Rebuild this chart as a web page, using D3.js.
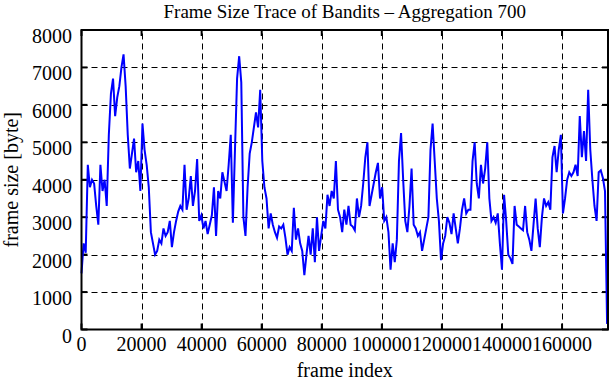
<!DOCTYPE html>
<html>
<head>
<meta charset="utf-8">
<script src="https://cdn.jsdelivr.net/npm/d3@7"></script>
<style>
  body { margin: 0; background: #fff; }
  svg { display: block; font-family: "Liberation Serif", "DejaVu Serif", serif; }
</style>
</head>
<body>
<svg id="container"></svg>
<script>
const width = 611;
const height = 380;
const margin = ({top: 30, right: 3, bottom: 50.5, left: 81.5});

// frame size averaged over blocks of 700 frames
const aggregation = 700;
const frameSizes = [
  1500, 2300, 2050, 4400, 3800, 4000, 3900, 3300, 2800, 4400,
  3700, 4000, 3300, 5200, 6300, 6700, 5700, 6200, 6500, 7000,
  7350, 6500, 5200, 4300, 4700, 5100, 4200, 4500, 3700, 5500,
  4800, 4400, 3800, 2600, 2300, 2000, 2100, 2400, 2300, 2700,
  2500, 2600, 2900, 2200, 2600, 2900, 3150, 3300, 3200, 4400,
  3200, 3500, 4100, 3300, 3700, 4550, 2900, 3050, 2700, 2900,
  2550, 2800, 3050, 3800, 2500, 3700, 3500, 4200, 3950, 3700,
  4400, 5200, 2850, 4800, 6700, 7300, 6600, 3000, 2500, 3800,
  4700, 5000, 5400, 5800, 5400, 6400, 4500, 3800, 3500, 2700,
  3100, 2800, 2600, 2450, 2750, 2700, 2800, 2450, 2000, 2200,
  2100, 3250, 2400, 2700, 2300, 2100, 1450, 2000, 2500, 2000,
  2700, 1800, 3000, 2100, 2500, 2900, 2700, 3600, 3300, 3700,
  3500, 4500, 3200, 3000, 2600, 3200, 2800, 3300, 2800, 2750,
  2650, 3500, 3000, 3300, 3900, 4600, 5000, 3300, 3600, 3900,
  4200, 4450, 3500, 3800, 2900, 3000, 2600, 1600, 2300, 1800,
  2400, 4500, 5250, 4000, 2900, 2600, 3300, 4300, 2800, 2700,
  2500, 2600, 2100, 2400, 2700, 3000, 4800, 5500, 4500, 3500,
  2900, 1850, 2300, 2500, 3000, 2850, 2550, 3100, 2700, 2300,
  2700, 3200, 3500, 3100, 3200, 3200, 4500, 5000, 3900, 3500,
  4400, 3900, 4300, 5000, 3500, 2900, 3000, 2850, 3100, 2300,
  1600, 3600, 2900, 2000, 1900, 1750, 3300, 2800, 2750, 2700,
  2650, 3300, 2600, 2400, 2100, 2800, 3500, 2700, 2200, 3000,
  3500, 3300, 3400, 3200, 4600, 4900, 4200, 4800, 5200, 3100,
  3500, 4000, 4200, 4100, 4200, 4400, 4100, 5700, 4600, 5300,
  4500, 6400, 4800, 4000, 3300, 2900, 4200, 4250, 4050, 3700,
  150
];
const xTicks = [0, 20000, 40000, 60000, 80000, 100000, 120000, 140000, 160000];
const yTicks = [0, 1000, 2000, 3000, 4000, 5000, 6000, 7000, 8000];
const xMax = 175300;

var data = frameSizes.map((v, i) => ({frame: i * aggregation, size: v}));

var x = d3.scaleLinear()
    .domain([0, xMax])
    .range([margin.left, width - margin.right]);

var y = d3.scaleLinear()
    .domain([0, 8000])
    .range([height - margin.bottom, margin.top]);

var svg = d3.select("#container")
    .attr("width", width)
    .attr("height", height)
    .attr("viewBox", [0, 0, width, height]);

// dashed grid
svg.append("g")
    .attr("stroke", "black")
    .attr("stroke-width", 1)
    .attr("stroke-dasharray", "6,4")
    .call(g => g.selectAll(".gx")
        .data(xTicks.filter(d => d > 0))
        .join("line")
        .attr("x1", d => Math.round(x(d)) + 0.5)
        .attr("x2", d => Math.round(x(d)) + 0.5)
        .attr("y1", y(0))
        .attr("y2", y(8000)))
    .call(g => g.selectAll(".gy")
        .data(yTicks.filter(d => d > 0 && d < 8000))
        .join("line")
        .attr("x1", x(0))
        .attr("x2", x(xMax))
        .attr("y1", d => Math.round(y(d)) + 0.5)
        .attr("y2", d => Math.round(y(d)) + 0.5));

// ticks on all four sides, pointing inwards
var tickLen = 6;
var ticks = svg.append("g").attr("stroke", "black").attr("stroke-width", 2);
xTicks.forEach(d => {
  ticks.append("line").attr("x1", x(d)).attr("x2", x(d)).attr("y1", y(0)).attr("y2", y(0) - tickLen);
  ticks.append("line").attr("x1", x(d)).attr("x2", x(d)).attr("y1", y(8000)).attr("y2", y(8000) + tickLen);
});
yTicks.forEach(d => {
  ticks.append("line").attr("x1", x(0)).attr("x2", x(0) + tickLen).attr("y1", y(d)).attr("y2", y(d));
  ticks.append("line").attr("x1", x(xMax)).attr("x2", x(xMax) - tickLen).attr("y1", y(d)).attr("y2", y(d));
});

// the trace
var line = d3.line()
    .x(d => x(d.frame))
    .y(d => y(d.size));

svg.append("path")
    .datum(data)
    .attr("fill", "none")
    .attr("stroke", "#0000ff")
    .attr("stroke-width", 2)
    .attr("stroke-linejoin", "miter")
    .attr("d", line);

// frame
svg.append("rect")
    .attr("x", x(0))
    .attr("y", y(8000))
    .attr("width", x(xMax) - x(0))
    .attr("height", y(0) - y(8000))
    .attr("fill", "none")
    .attr("stroke", "black")
    .attr("stroke-width", 2);

// tick labels
svg.append("g")
    .attr("font-size", 20)
    .attr("text-anchor", "end")
    .selectAll("text")
    .data(yTicks)
    .join("text")
    .attr("x", 72)
    .attr("y", d => y(d) + 13)
    .text(d => d);

svg.append("g")
    .attr("font-size", 20)
    .attr("text-anchor", "middle")
    .selectAll("text")
    .data(xTicks)
    .join("text")
    .attr("x", d => x(d))
    .attr("y", 351)
    .text(d => d);

// titles
svg.append("text")
    .attr("x", (x(0) + x(xMax)) / 2)
    .attr("y", 17.5)
    .attr("font-size", 19)
    .attr("text-anchor", "middle")
    .text("Frame Size Trace of Bandits \u2013 Aggregation 700");

svg.append("text")
    .attr("x", (x(0) + x(xMax)) / 2)
    .attr("y", 377)
    .attr("font-size", 20)
    .attr("text-anchor", "middle")
    .text("frame index");

svg.append("text")
    .attr("transform", `translate(18,${(y(0) + y(8000)) / 2}) rotate(-90)`)
    .attr("font-size", 20)
    .attr("text-anchor", "middle")
    .text("frame size [byte]");
</script>
</body>
</html>
